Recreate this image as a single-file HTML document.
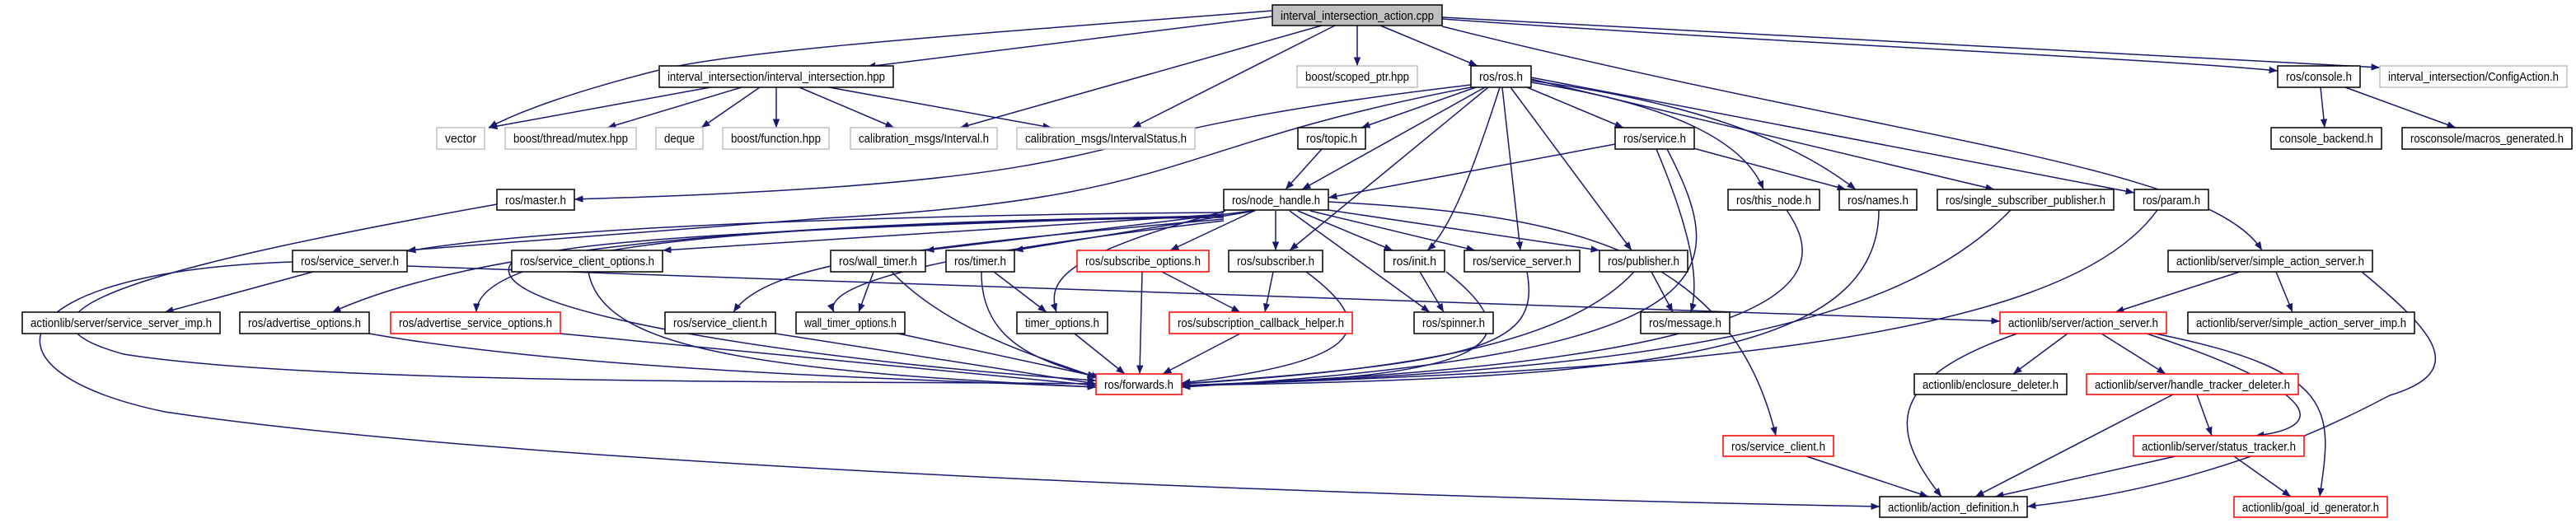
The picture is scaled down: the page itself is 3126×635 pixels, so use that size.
<!DOCTYPE html>
<html><head><meta charset="utf-8"><style>
html,body{margin:0;padding:0;background:#fff;width:3126px;height:635px;overflow:hidden}
svg{display:block}
text{font-family:"Liberation Sans",sans-serif;font-size:15px;fill:#000}
.e{fill:none;stroke:#191970;stroke-width:1.5;marker-end:url(#a)}
.n{fill:#fff;stroke:#000;stroke-width:1.5}
.g{fill:#fff;stroke:#bfbfbf;stroke-width:1.5}
.r{fill:#fff;stroke:#ff0000;stroke-width:1.5}
</style></head><body>
<svg width="3126" height="635" viewBox="0 0 3126 635" xmlns="http://www.w3.org/2000/svg">
<defs><marker id="a" viewBox="0 0 10 8" refX="10" refY="4" markerWidth="7" markerHeight="6" markerUnits="strokeWidth" orient="auto"><path d="M0,0 L10,4 L0,8 z" fill="#191970"/></marker></defs>
<g>
<path class="e" d="M1544,13 C1200,40 900,60 800,85 C700,110 630,135 593,155"/>
<path class="e" d="M1544,20 L1052,81"/>
<path class="e" d="M1604,31 L1165,155"/>
<path class="e" d="M1620,31 L1374,155"/>
<path class="e" d="M1647,31 L1647,80"/>
<path class="e" d="M1675,31 L1793,80"/>
<path class="e" d="M1750,23 C2200,55 2600,70 2764,86"/>
<path class="e" d="M1750,21 L2888,82"/>
<path class="e" d="M1750,32 C2300,170 2680,200 2745,304"/>
<path class="e" d="M862,106 L593,155"/>
<path class="e" d="M900,106 L737,155"/>
<path class="e" d="M922,106 L851,155"/>
<path class="e" d="M942,106 L942,155"/>
<path class="e" d="M970,106 L1085,155"/>
<path class="e" d="M1006,106 L1276,155"/>
<path class="e" d="M1785,103 C1300,160 1400,200 1000,228 C850,238 750,240 697,242"/>
<path class="e" d="M1791,106 L1652,155"/>
<path class="e" d="M1802,106 L1580,230"/>
<path class="e" d="M1853,106 L1970,155"/>
<path class="e" d="M1858,100 C2050,130 2120,180 2140,230"/>
<path class="e" d="M1858,98 C2100,130 2200,190 2252,230"/>
<path class="e" d="M1858,96 L2420,230"/>
<path class="e" d="M1858,94 L2590,234"/>
<path class="e" d="M1785,106 C1400,180 1450,240 1000,265 C750,285 560,298 494,304"/>
<path class="e" d="M1806,106 L1565,304"/>
<path class="e" d="M1820,106 C1790,200 1760,280 1732,304"/>
<path class="e" d="M1823,106 L1845,304"/>
<path class="e" d="M1833,106 L1980,304"/>
<path class="e" d="M1604,181 L1560,230"/>
<path class="e" d="M1960,175 L1612,240"/>
<path class="e" d="M2055,180 L2240,230"/>
<path class="e" d="M2010,181 C2060,300 2060,350 2052,379"/>
<path class="e" d="M2023,181 C2100,330 2110,430 1434,470"/>
<path class="e" d="M1485,258 C1200,260 700,270 494,305"/>
<path class="e" d="M1485,260 L804,304"/>
<path class="e" d="M1520,256 L1123,304"/>
<path class="e" d="M1523,256 L1231,304"/>
<path class="e" d="M1522,256 L1420,304"/>
<path class="e" d="M1548,256 L1548,304"/>
<path class="e" d="M1575,256 L1690,304"/>
<path class="e" d="M1590,256 L1790,304"/>
<path class="e" d="M1612,255 L1941,304"/>
<path class="e" d="M1565,256 L1735,379"/>
<path class="e" d="M1485,262 C1000,270 600,290 403,379"/>
<path class="e" d="M1485,264 C900,270 580,300 578,379"/>
<path class="e" d="M1485,266 C1100,300 930,320 890,379"/>
<path class="e" d="M1485,268 C1300,290 990,330 1012,379"/>
<path class="e" d="M1487,256 C1290,310 1270,340 1282,379"/>
<path class="e" d="M1485,262 C800,280 650,300 620,320 C580,380 1000,440 1330,462"/>
<path class="e" d="M1612,245 C1900,260 2100,300 2155,529"/>
<path class="e" d="M603,248 C200,320 -30,380 150,430 C400,470 1100,462 1330,466"/>
<path class="e" d="M380,330 L200,379"/>
<path class="e" d="M494,323 C1200,350 2000,370 2427,390"/>
<path class="e" d="M355,318 C0,330 -40,450 200,500 C600,560 1500,600 2281,615"/>
<path class="e" d="M714,330 C730,420 900,450 1330,470"/>
<path class="e" d="M448,405 C700,450 1100,460 1330,470"/>
<path class="e" d="M680,405 L1330,468"/>
<path class="e" d="M941,405 L1330,466"/>
<path class="e" d="M1090,405 L1335,458"/>
<path class="e" d="M1060,330 L1042,379"/>
<path class="e" d="M1082,330 C1150,400 1250,430 1330,458"/>
<path class="e" d="M1206,330 L1270,379"/>
<path class="e" d="M1191,330 C1190,420 1270,440 1330,458"/>
<path class="e" d="M1304,405 L1365,454"/>
<path class="e" d="M1386,330 L1383,454"/>
<path class="e" d="M1410,330 L1505,379"/>
<path class="e" d="M1545,330 L1535,379"/>
<path class="e" d="M1585,330 C1680,400 1650,440 1434,465"/>
<path class="e" d="M1505,405 L1411,454"/>
<path class="e" d="M1723,330 L1752,379"/>
<path class="e" d="M1755,330 C1870,420 1800,460 1434,468"/>
<path class="e" d="M1853,330 C1870,420 1800,440 1434,466"/>
<path class="e" d="M2004,330 L2030,379"/>
<path class="e" d="M1983,330 C1900,420 1700,450 1434,466"/>
<path class="e" d="M2168,255 C2220,330 2220,440 1434,468"/>
<path class="e" d="M2280,255 C2280,430 2000,460 1434,468"/>
<path class="e" d="M2440,255 C2300,400 2000,450 1434,468"/>
<path class="e" d="M2618,255 C2500,420 2000,450 1434,468"/>
<path class="e" d="M2192,554 L2340,603"/>
<path class="e" d="M2816,106 L2821,155"/>
<path class="e" d="M2846,106 L2980,155"/>
<path class="e" d="M2718,330 L2567,379"/>
<path class="e" d="M2762,330 L2782,379"/>
<path class="e" d="M2866,330 C2950,400 3000,450 2900,480 C2750,560 2600,600 2460,615"/>
<path class="e" d="M2448,405 C2290,460 2290,520 2356,603"/>
<path class="e" d="M2509,405 L2443,454"/>
<path class="e" d="M2550,405 L2628,454"/>
<path class="e" d="M2605,405 C2830,480 2820,520 2737,529"/>
<path class="e" d="M2615,405 C2840,450 2830,500 2815,603"/>
<path class="e" d="M2637,479 L2397,603"/>
<path class="e" d="M2666,479 L2684,529"/>
<path class="e" d="M2640,554 L2421,603"/>
<path class="e" d="M2711,554 L2780,603"/>
</g>
<g>
<rect x="1544" y="6" width="206" height="25" fill="#bfbfbf" stroke="#000" stroke-width="1.5"/><text x="1554" y="24" textLength="186" lengthAdjust="spacingAndGlyphs">interval_intersection_action.cpp</text>
<rect class="n" x="800" y="80" width="284" height="26"/><text x="810" y="98" textLength="264" lengthAdjust="spacingAndGlyphs">interval_intersection/interval_intersection.hpp</text>
<rect class="g" x="1574" y="80" width="146" height="26"/><text x="1584" y="98" textLength="126" lengthAdjust="spacingAndGlyphs">boost/scoped_ptr.hpp</text>
<rect class="n" x="1785" y="80" width="73" height="26"/><text x="1795" y="98" textLength="53" lengthAdjust="spacingAndGlyphs">ros/ros.h</text>
<rect class="n" x="2764" y="80" width="100" height="26"/><text x="2774" y="98" textLength="80" lengthAdjust="spacingAndGlyphs">ros/console.h</text>
<rect class="g" x="2888" y="80" width="227" height="26"/><text x="2898" y="98" textLength="207" lengthAdjust="spacingAndGlyphs">interval_intersection/ConfigAction.h</text>

<rect class="g" x="530" y="155" width="58" height="26"/><text x="540" y="173" textLength="38" lengthAdjust="spacingAndGlyphs">vector</text>
<rect class="g" x="613" y="155" width="159" height="26"/><text x="623" y="173" textLength="139" lengthAdjust="spacingAndGlyphs">boost/thread/mutex.hpp</text>
<rect class="g" x="796" y="155" width="57" height="26"/><text x="806" y="173" textLength="37" lengthAdjust="spacingAndGlyphs">deque</text>
<rect class="g" x="877" y="155" width="129" height="26"/><text x="887" y="173" textLength="109" lengthAdjust="spacingAndGlyphs">boost/function.hpp</text>
<rect class="g" x="1032" y="155" width="178" height="26"/><text x="1042" y="173" textLength="158" lengthAdjust="spacingAndGlyphs">calibration_msgs/Interval.h</text>
<rect class="g" x="1234" y="155" width="216" height="26"/><text x="1244" y="173" textLength="196" lengthAdjust="spacingAndGlyphs">calibration_msgs/IntervalStatus.h</text>
<rect class="n" x="1575" y="155" width="82" height="26"/><text x="1585" y="173" textLength="62" lengthAdjust="spacingAndGlyphs">ros/topic.h</text>
<rect class="n" x="1960" y="155" width="96" height="26"/><text x="1970" y="173" textLength="76" lengthAdjust="spacingAndGlyphs">ros/service.h</text>
<rect class="n" x="2756" y="155" width="134" height="26"/><text x="2766" y="173" textLength="114" lengthAdjust="spacingAndGlyphs">console_backend.h</text>
<rect class="n" x="2915" y="155" width="206" height="26"/><text x="2925" y="173" textLength="186" lengthAdjust="spacingAndGlyphs">rosconsole/macros_generated.h</text>

<rect class="n" x="603" y="230" width="94" height="25"/><text x="613" y="248" textLength="74" lengthAdjust="spacingAndGlyphs">ros/master.h</text>
<rect class="n" x="1485" y="230" width="127" height="25"/><text x="1495" y="248" textLength="107" lengthAdjust="spacingAndGlyphs">ros/node_handle.h</text>
<rect class="n" x="2097" y="230" width="111" height="25"/><text x="2107" y="248" textLength="91" lengthAdjust="spacingAndGlyphs">ros/this_node.h</text>
<rect class="n" x="2232" y="230" width="94" height="25"/><text x="2242" y="248" textLength="74" lengthAdjust="spacingAndGlyphs">ros/names.h</text>
<rect class="n" x="2351" y="230" width="214" height="25"/><text x="2361" y="248" textLength="194" lengthAdjust="spacingAndGlyphs">ros/single_subscriber_publisher.h</text>
<rect class="n" x="2590" y="230" width="90" height="25"/><text x="2600" y="248" textLength="70" lengthAdjust="spacingAndGlyphs">ros/param.h</text>

<rect class="n" x="355" y="304" width="139" height="26"/><text x="365" y="322" textLength="119" lengthAdjust="spacingAndGlyphs">ros/service_server.h</text>
<rect class="n" x="621" y="304" width="183" height="26"/><text x="631" y="322" textLength="163" lengthAdjust="spacingAndGlyphs">ros/service_client_options.h</text>
<rect class="n" x="1008" y="304" width="115" height="26"/><text x="1018" y="322" textLength="95" lengthAdjust="spacingAndGlyphs">ros/wall_timer.h</text>
<rect class="n" x="1148" y="304" width="83" height="26"/><text x="1158" y="322" textLength="63" lengthAdjust="spacingAndGlyphs">ros/timer.h</text>
<rect class="r" x="1307" y="304" width="160" height="26"/><text x="1317" y="322" textLength="140" lengthAdjust="spacingAndGlyphs">ros/subscribe_options.h</text>
<rect class="n" x="1491" y="304" width="114" height="26"/><text x="1501" y="322" textLength="94" lengthAdjust="spacingAndGlyphs">ros/subscriber.h</text>
<rect class="n" x="1680" y="304" width="73" height="26"/><text x="1690" y="322" textLength="53" lengthAdjust="spacingAndGlyphs">ros/init.h</text>
<rect class="n" x="1777" y="304" width="140" height="26"/><text x="1787" y="322" textLength="120" lengthAdjust="spacingAndGlyphs">ros/service_server.h</text>
<rect class="n" x="1941" y="304" width="107" height="26"/><text x="1951" y="322" textLength="87" lengthAdjust="spacingAndGlyphs">ros/publisher.h</text>
<rect class="n" x="2631" y="304" width="248" height="26"/><text x="2641" y="322" textLength="228" lengthAdjust="spacingAndGlyphs">actionlib/server/simple_action_server.h</text>

<rect class="n" x="27" y="379" width="240" height="26"/><text x="37" y="397" textLength="220" lengthAdjust="spacingAndGlyphs">actionlib/server/service_server_imp.h</text>
<rect class="n" x="291" y="379" width="157" height="26"/><text x="301" y="397" textLength="137" lengthAdjust="spacingAndGlyphs">ros/advertise_options.h</text>
<rect class="r" x="474" y="379" width="206" height="26"/><text x="484" y="397" textLength="186" lengthAdjust="spacingAndGlyphs">ros/advertise_service_options.h</text>
<rect class="n" x="807" y="379" width="134" height="26"/><text x="817" y="397" textLength="114" lengthAdjust="spacingAndGlyphs">ros/service_client.h</text>
<rect class="n" x="966" y="379" width="132" height="26"/><text x="976" y="397" textLength="112" lengthAdjust="spacingAndGlyphs">wall_timer_options.h</text>
<rect class="n" x="1234" y="379" width="110" height="26"/><text x="1244" y="397" textLength="90" lengthAdjust="spacingAndGlyphs">timer_options.h</text>
<rect class="r" x="1419" y="379" width="222" height="26"/><text x="1429" y="397" textLength="202" lengthAdjust="spacingAndGlyphs">ros/subscription_callback_helper.h</text>
<rect class="n" x="1716" y="379" width="96" height="26"/><text x="1726" y="397" textLength="76" lengthAdjust="spacingAndGlyphs">ros/spinner.h</text>
<rect class="n" x="1991" y="379" width="108" height="26"/><text x="2001" y="397" textLength="88" lengthAdjust="spacingAndGlyphs">ros/message.h</text>
<rect class="r" x="2427" y="379" width="202" height="26"/><text x="2437" y="397" textLength="182" lengthAdjust="spacingAndGlyphs">actionlib/server/action_server.h</text>
<rect class="n" x="2655" y="379" width="275" height="26"/><text x="2665" y="397" textLength="255" lengthAdjust="spacingAndGlyphs">actionlib/server/simple_action_server_imp.h</text>

<rect class="r" x="1330" y="454" width="104" height="25"/><text x="1340" y="472" textLength="84" lengthAdjust="spacingAndGlyphs">ros/forwards.h</text>
<rect class="n" x="2323" y="454" width="185" height="25"/><text x="2333" y="472" textLength="165" lengthAdjust="spacingAndGlyphs">actionlib/enclosure_deleter.h</text>
<rect class="r" x="2532" y="454" width="257" height="25"/><text x="2542" y="472" textLength="237" lengthAdjust="spacingAndGlyphs">actionlib/server/handle_tracker_deleter.h</text>

<rect class="r" x="2091" y="529" width="134" height="25"/><text x="2101" y="547" textLength="114" lengthAdjust="spacingAndGlyphs">ros/service_client.h</text>
<rect class="r" x="2589" y="529" width="207" height="25"/><text x="2599" y="547" textLength="187" lengthAdjust="spacingAndGlyphs">actionlib/server/status_tracker.h</text>

<rect class="n" x="2281" y="603" width="179" height="25"/><text x="2291" y="621" textLength="159" lengthAdjust="spacingAndGlyphs">actionlib/action_definition.h</text>
<rect class="r" x="2711" y="603" width="186" height="25"/><text x="2721" y="621" textLength="166" lengthAdjust="spacingAndGlyphs">actionlib/goal_id_generator.h</text>
</g>
</svg>
</body></html>
